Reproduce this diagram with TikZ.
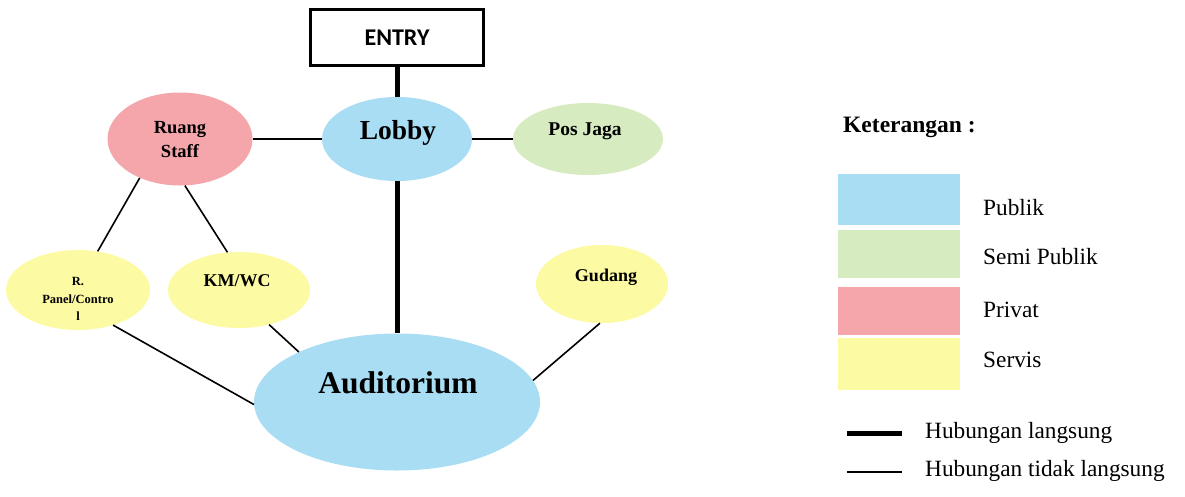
\documentclass[tikz,border=0pt]{standalone}
\usepackage{fontspec}
\setmainfont{Liberation Serif}
\newfontfamily\entryfont{Carlito}
\usetikzlibrary{shapes.geometric}
\definecolor{cpub}{RGB}{168,221,244}
\definecolor{csemi}{RGB}{214,235,192}
\definecolor{cpriv}{RGB}{244,166,170}
\definecolor{cserv}{RGB}{252,250,162}
\tikzset{
  zone/.style={ellipse, draw=none, inner sep=0pt},
  lbl/.style={inner sep=0pt, align=center, font=\bfseries},
  thin link/.style={line width=1.6pt, black},
  thick link/.style={line width=5pt, black},
  swatch/.style={rectangle, draw=none, inner sep=0pt, minimum width=122pt},
  legtext/.style={inner sep=0pt, anchor=west, font=\fontsize{23.3}{26}\selectfont},
}
\begin{document}
\begin{tikzpicture}[x=1pt, y=-1pt]
\useasboundingbox (0,0) rectangle (1185,496);
% entry
\node[rectangle, draw, line width=3pt, minimum width=173pt, minimum height=56pt, inner sep=0pt,
      font=\entryfont\bfseries\fontsize{24}{28}\selectfont] (entry) at (397,37.5) {ENTRY};
% zones
\node[zone, fill=cpub, minimum width=150pt, minimum height=84pt] (lobby) at (397,139) {};
\node[lbl, font=\bfseries\fontsize{27.5}{30}\selectfont] (lobbyt) at (398,133) {Lobby};
\node[zone, fill=cpriv, minimum width=145pt, minimum height=93pt] (ruang) at (180,139) {};
\node[lbl, font=\bfseries\fontsize{18.5}{24}\selectfont] (ruangt) at (180,140) {Ruang\\Staff};
\node[zone, fill=csemi, minimum width=150pt, minimum height=72pt] (pos) at (588,139) {};
\node[lbl, font=\bfseries\fontsize{19.5}{22}\selectfont] (post) at (585,131) {Pos Jaga};
\node[zone, fill=cserv, minimum width=144pt, minimum height=80pt] (panel) at (78,290) {};
\node[lbl, font=\bfseries\fontsize{12.5}{17.5}\selectfont] (panelt) at (78,299) {R.\\Panel/Contro\\l};
\node[zone, fill=cserv, minimum width=142pt, minimum height=76pt] (km) at (239,290) {};
\node[lbl, font=\bfseries\fontsize{18}{22}\selectfont] (kmt) at (237,281) {KM/WC};
\node[zone, fill=cserv, minimum width=132pt, minimum height=78pt] (gudang) at (602,284) {};
\node[lbl, font=\bfseries\fontsize{18}{22}\selectfont] (gudangt) at (606,277) {Gudang};
\node[zone, fill=cpub, minimum width=286pt, minimum height=137pt] (aud) at (397,402) {};
\node[lbl, font=\bfseries\fontsize{31.5}{34}\selectfont] (audt) at (398,383) {Auditorium};
% connectors
\draw[thick link] (entry.south) -- (lobby.north);
\draw[thick link] (lobby.south) -- (aud.north);
\draw[thin link] (ruang.east) -- (lobby.west);
\draw[thin link] (lobby.east) -- (pos.west);
\draw[thin link] (ruang.224) -- (panel.63);
\draw[thin link] (ruang.276) -- (km.107);
\draw[thin link] (panel.315) -- (aud.181);
\draw[thin link] (km.311) -- (aud.153);
\draw[thin link] (gudang.267) -- (aud.9);
% legend
\node[inner sep=0pt, anchor=west, font=\bfseries\fontsize{23.5}{26}\selectfont] (ket) at (843,127) {Keterangan :};
\node[swatch, fill=cpub, minimum height=51pt] (sw1) at (899,199.5) {};
\node[swatch, fill=csemi, minimum height=48pt] (sw2) at (899,254) {};
\node[swatch, fill=cpriv, minimum height=48pt] (sw3) at (899,311) {};
\node[swatch, fill=cserv, minimum height=52pt] (sw4) at (899,364) {};
\node[legtext] (l1) at (983,208) {Publik};
\node[legtext] (l2) at (983,257) {Semi Publik};
\node[legtext] (l3) at (983,310) {Privat};
\node[legtext] (l4) at (983,360) {Servis};
\coordinate (a1) at (847,433);
\coordinate (a2) at (902,433);
\coordinate (b1) at (847,472);
\coordinate (b2) at (902,472);
\draw[thick link] (a1) -- (a2);
\draw[line width=2pt] (b1) -- (b2);
\node[legtext] (l5) at (925,433) {Hubungan langsung};
\node[legtext] (l6) at (925,471) {Hubungan tidak langsung};
\end{tikzpicture}
\end{document}
